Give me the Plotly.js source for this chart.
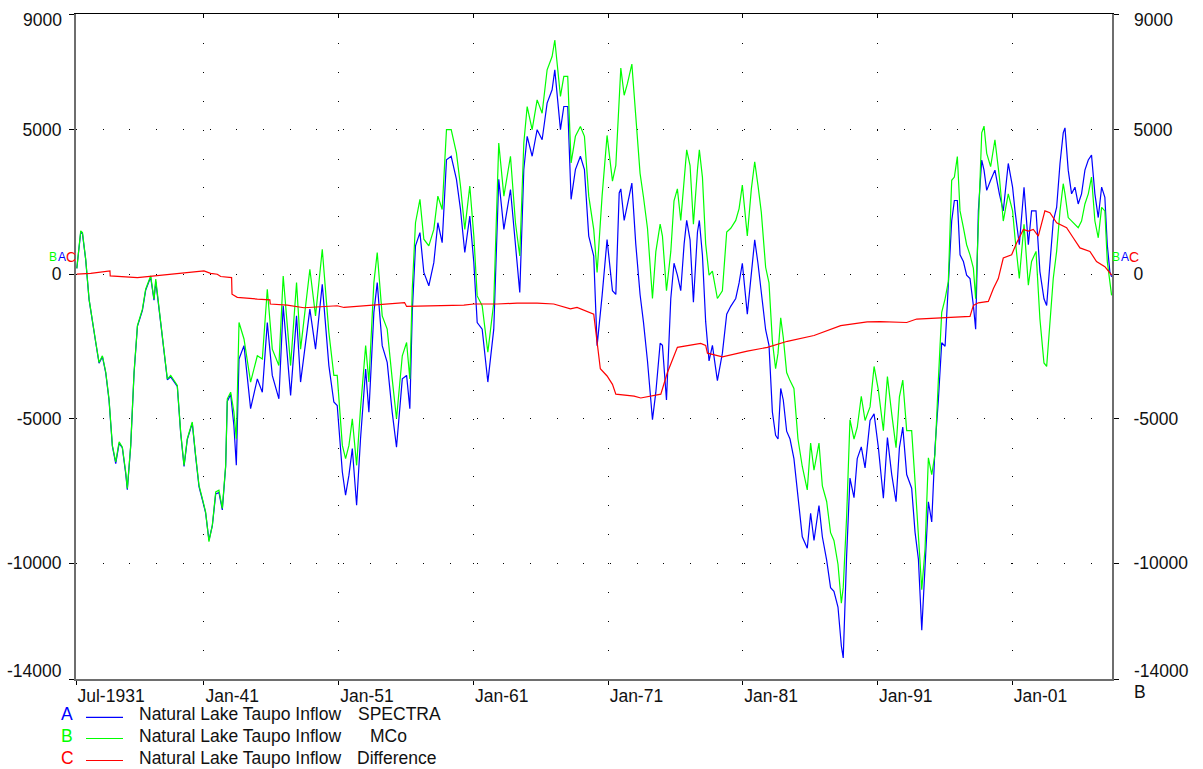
<!DOCTYPE html>
<html>
<head>
<meta charset="utf-8">
<script src="https://cdn.plot.ly/plotly-3.0.1.min.js"></script>
<style>html,body{margin:0;padding:0;background:#fff;}#chart{width:1203px;height:769px;}</style>
</head>
<body>
<div id="chart"></div>
<script>
// ---- data ----
const yearsAB = [1931.56,1931.85,1931.98,1932.22,1932.47,1932.72,1932.97,1933.21,1933.46,1933.71,1933.95,1934.20,1934.45,1934.70,1934.94,1935.19,1935.31,1935.56,1935.81,1936.06,1936.43,1936.67,1937.04,1937.29,1937.42,1937.79,1938.03,1938.28,1938.53,1939.02,1939.27,1939.52,1939.76,1940.13,1940.38,1940.63,1940.88,1941.12,1941.37,1941.62,1941.87,1942.11,1942.36,1942.61,1942.73,1942.98,1943.22,1943.40,1943.60,1943.97,1944.46,1944.96,1945.33,1945.70,1946.07,1946.56,1946.88,1947.43,1947.87,1948.17,1948.86,1949.28,1949.78,1950.27,1950.64,1950.89,1951.27,1951.51,1951.76,1952.01,1952.33,1952.62,1953.00,1953.24,1953.61,1953.86,1954.23,1954.60,1954.97,1955.29,1955.72,1956.04,1956.28,1956.46,1956.70,1957.03,1957.32,1957.69,1958.06,1958.36,1958.68,1959.00,1959.35,1959.74,1960.04,1960.36,1960.73,1961.03,1961.28,1961.65,1962.07,1962.51,1962.88,1963.26,1963.75,1964.12,1964.44,1964.74,1964.99,1965.36,1965.73,1966.10,1966.47,1966.84,1967.04,1967.46,1967.71,1968.00,1968.25,1968.57,1968.94,1969.24,1969.56,1969.93,1970.18,1970.55,1970.92,1971.32,1971.57,1971.82,1971.94,1972.19,1972.43,1972.76,1973.05,1973.37,1973.62,1973.92,1974.29,1974.54,1974.86,1975.03,1975.33,1975.65,1975.89,1976.14,1976.39,1976.64,1976.83,1977.08,1977.33,1977.63,1977.77,1978.00,1978.24,1978.49,1978.74,1979.11,1979.48,1979.80,1980.10,1980.47,1980.72,1980.96,1981.33,1981.63,1981.88,1982.12,1982.37,1982.69,1982.94,1983.19,1983.43,1983.61,1983.81,1984.00,1984.25,1984.50,1984.79,1985.09,1985.41,1985.78,1986.03,1986.28,1986.65,1986.90,1987.22,1987.51,1987.76,1988.06,1988.31,1988.45,1988.70,1988.95,1989.25,1989.49,1989.79,1990.07,1990.44,1990.74,1991.06,1991.43,1991.73,1992.05,1992.37,1992.62,1992.87,1993.16,1993.53,1993.78,1994.03,1994.28,1994.52,1994.77,1995.02,1995.26,1995.51,1995.76,1996.01,1996.25,1996.50,1996.70,1996.92,1997.12,1997.37,1997.61,1997.86,1998.11,1998.28,1998.48,1998.73,1998.90,1999.10,1999.39,1999.71,2000.04,2000.33,2000.70,2001.02,2001.20,2001.52,2001.87,2002.19,2002.43,2002.76,2003.05,2003.35,2003.55,2003.79,2004.04,2004.29,2004.54,2004.78,2004.91,2005.15,2005.40,2005.65,2005.89,2006.14,2006.39,2006.64,2006.88,2007.13,2007.38,2007.63,2007.87,2008.05,2008.24,2008.37];

const spectra = [200,1450,1400,500,-880,-1700,-2380,-3080,-2850,-3420,-4350,-5950,-6550,-5850,-6000,-6900,-7450,-5950,-3420,-1800,-1250,-560,-100,-900,-250,-1700,-2750,-3650,-3550,-3880,-5500,-6650,-5720,-5150,-6300,-7350,-7800,-8250,-9200,-8700,-7600,-7550,-8150,-6650,-4400,-4150,-5230,-6610,-2930,-2470,-4650,-3620,-4080,-1670,-3500,-4310,-1090,-4190,-1440,-3730,-1210,-2590,-350,-3160,-4420,-4540,-6840,-7640,-6950,-6030,-7990,-5690,-3280,-4770,-1320,-290,-2470,-3050,-4770,-5980,-3620,-3500,-4650,-1320,980,1440,60,-400,400,1780,1090,3960,4080,3280,2240,750,2010,400,-1670,-1900,-3730,-1900,3280,1550,2930,860,-630,3620,4770,4080,5000,4650,5920,6380,7070,5000,5800,5800,2590,3620,4080,3620,1320,630,-2470,-750,1200,-570,-700,2810,2950,1860,2400,3150,1050,-700,-1650,-3000,-5030,-4080,-2390,-2460,-4350,-840,380,-30,-570,1050,1860,1190,-970,1460,1860,650,-1650,-3000,-2460,-3680,-2730,-1380,-1110,-840,-300,380,-1380,-30,1190,380,-570,-1920,-2460,-4760,-5570,-5700,-3950,-4350,-5430,-5700,-6380,-7730,-9080,-9480,-8270,-9210,-8000,-9080,-9890,-10840,-10970,-11510,-12860,-13270,-9750,-7050,-7730,-6380,-5970,-6700,-5060,-4830,-6000,-7750,-5650,-6930,-7870,-6000,-5290,-6930,-7400,-8920,-9860,-12310,-10330,-7870,-8570,-6000,-4360,-2370,-2490,-380,1840,2550,2550,670,440,-30,-150,-1080,-1900,2190,3950,3600,2900,3250,3600,2780,2190,3830,3010,2190,1020,3010,1020,2190,2190,90,-850,-1080,320,1840,2310,3830,4890,5060,3600,2780,3010,2430,2780,3600,3950,4120,2780,1960,3010,2660,1020,90,-90];

const mco = [200,1500,1440,520,-860,-1670,-2360,-3050,-2820,-3390,-4310,-5920,-6490,-5800,-5980,-6840,-7410,-5920,-3390,-1780,-1210,-520,-60,-860,-170,-1670,-2700,-3620,-3500,-3850,-5460,-6610,-5690,-5110,-6260,-7300,-7760,-8220,-9250,-8680,-7530,-7470,-8100,-6610,-4310,-4080,-4770,-5690,-1670,-2240,-3730,-2820,-2930,-520,-2590,-3160,-60,-3160,-290,-2590,170,-1440,860,-2010,-3500,-3500,-5920,-6380,-5920,-5000,-6610,-4650,-2470,-3730,-290,750,-1440,-1900,-3620,-5000,-2820,-2360,-3620,-520,1780,2590,1210,980,1550,2700,2240,5000,5000,4190,3050,1550,3050,1320,-750,-1090,-2700,-980,4540,2700,4080,1780,630,4540,5800,5000,6030,5570,7070,7530,8100,6150,6840,6840,3850,4770,5110,4770,2700,1550,60,2700,4800,3220,3760,5920,7130,6190,6590,7270,5510,3490,2680,1590,-840,780,1730,1320,-570,780,2540,2950,1860,3350,4300,3760,1730,3620,4300,3350,1050,-30,110,-840,-570,1460,1590,1860,2270,3080,1320,2950,3890,3080,2140,240,-300,-2320,-3270,-2730,-1510,-2190,-3400,-3680,-3950,-5700,-6650,-7460,-5840,-6780,-5840,-7320,-7860,-8940,-9210,-10030,-11380,-10840,-8400,-5030,-5700,-5300,-4220,-5060,-4590,-3190,-4010,-5410,-3540,-4830,-6000,-4240,-3660,-5410,-5410,-7170,-8920,-10910,-9510,-6350,-6930,-6230,-3660,-1320,-850,-260,3250,3360,4070,2190,1610,1020,670,210,-850,1610,4890,5120,4180,3720,4650,3360,1840,2780,2190,1260,-150,1730,-380,440,790,-1550,-3070,-3190,-1780,-150,790,2190,3130,2780,1960,1840,1730,1610,1840,2430,2780,3360,1840,1260,2310,2190,440,-380,-730];

const yearsDiff = [1931.56,1932.59,1934.02,1934.04,1936.06,1938.53,1941.00,1941.49,1941.99,1942.24,1943.05,1943.08,1943.47,1944.96,1945.89,1945.92,1947.18,1948.42,1949.65,1950.89,1951.39,1953.37,1955.34,1955.89,1956.04,1957.82,1960.29,1961.03,1962.76,1964.24,1965.73,1966.96,1967.46,1968.20,1968.69,1969.68,1969.93,1970.18,1970.42,1970.92,1971.32,1971.57,1972.93,1973.42,1974.91,1975.40,1976.14,1977.87,1978.24,1978.37,1979.48,1981.33,1982.82,1984.30,1986.28,1988.26,1990.23,1991.19,1993.16,1993.90,1995.88,1997.86,1998.11,1998.48,1999.22,1999.59,1999.96,2000.33,2000.95,2001.32,2001.82,2002.19,2002.56,2002.93,2003.42,2003.79,2004.29,2005.03,2005.52,2006.02,2006.76,2007.25,2007.87,2008.37];

const difference = [0,30,115,-60,-115,0,115,30,0,-80,-115,-690,-800,-860,-885,-1030,-1070,-1160,-1115,-1090,-1150,-1070,-980,-980,-1115,-1090,-1070,-1030,-1030,-1000,-1000,-1030,-1090,-1200,-1150,-1320,-1380,-2350,-3270,-3520,-3810,-4150,-4215,-4280,-4150,-3400,-2530,-2390,-2460,-2730,-2860,-2660,-2530,-2320,-2120,-1780,-1650,-1640,-1670,-1550,-1515,-1460,-1080,-990,-940,-500,-150,560,670,1080,1550,1490,1550,1320,2190,2130,1780,1610,1260,910,790,440,260,-30];

const xTickVals = [1931.5,1941,1951,1961,1971,1981,1991,2001];
const xTickText = ['Jul-1931','Jan-41','Jan-51','Jan-61','Jan-71','Jan-81','Jan-91','Jan-01'];
const yTickVals = [9000,5000,0,-5000,-10000,-14000];
const yTickText = ['9000','5000','0','-5000','-10000','-14000'];

const seriesLetters = ['A','B','C'];
const seriesNames = ['Natural Lake Taupo Inflow','Natural Lake Taupo Inflow','Natural Lake Taupo Inflow'];
const seriesSuffix = ['SPECTRA','MCo','Difference'];
const seriesColors = ['#0000ff','#00ff00','#ff0000'];

// ---- layout helpers (pixel -> paper) ----
const PL = 76, PR = 1112, PT = 14, PB = 679;
const px = x => (x - PL) / (PR - PL);
const py = y => (PB - y) / (PB - PT);
const FONT = '"Liberation Sans", Arial, Helvetica, sans-serif';
const TXT = '#111';

const traces = [
  {x: yearsAB, y: spectra, type: 'scatter', mode: 'lines', line: {color: seriesColors[0], width: 1.2}, xaxis: 'x', yaxis: 'y', hoverinfo: 'skip'},
  {x: yearsAB, y: mco, type: 'scatter', mode: 'lines', line: {color: seriesColors[1], width: 1.2}, xaxis: 'x', yaxis: 'y', hoverinfo: 'skip'},
  {x: yearsDiff, y: difference, type: 'scatter', mode: 'lines', line: {color: seriesColors[2], width: 1.2}, xaxis: 'x2', yaxis: 'y2', hoverinfo: 'skip'}
];

const xRange = [1931.5, 2008.4];
const yRange = [-14000, 9000];

// the two end tick labels sit just inside the frame in the reference: drawn as annotations
const edgeIdx = [0, yTickVals.length - 1];
const edgeLabelY = [20, 671];
const axisTickText = yTickText.map((t, i) => edgeIdx.includes(i) ? '' : t);

const annotations = [];
const shapes = [];
edgeIdx.forEach((idx, j) => {
  annotations.push({xref: 'paper', yref: 'paper', x: px(64), y: py(edgeLabelY[j]), xanchor: 'right', yanchor: 'middle', text: yTickText[idx], showarrow: false, font: {family: FONT, size: 17.5, color: TXT}});
  annotations.push({xref: 'paper', yref: 'paper', x: px(1132), y: py(edgeLabelY[j]), xanchor: 'left', yanchor: 'middle', text: yTickText[idx], showarrow: false, font: {family: FONT, size: 17.5, color: TXT}});
});

const rowTextY = [714, 736, 757.5];
const rowLineY = [717.3, 738.5, 760.5];
const suffixX = [356, 368, 355];
for (let i = 0; i < 3; i++) {
  annotations.push({xref: 'paper', yref: 'paper', x: px(67), y: py(rowTextY[i]), xanchor: 'center', yanchor: 'middle', text: seriesLetters[i], showarrow: false, font: {family: FONT, size: 17.5, color: seriesColors[i]}});
  annotations.push({xref: 'paper', yref: 'paper', x: px(137), y: py(rowTextY[i]), xanchor: 'left', yanchor: 'middle', text: seriesNames[i], showarrow: false, font: {family: FONT, size: 17.5, color: TXT}});
  annotations.push({xref: 'paper', yref: 'paper', x: px(suffixX[i]), y: py(rowTextY[i]), xanchor: 'left', yanchor: 'middle', text: seriesSuffix[i], showarrow: false, font: {family: FONT, size: 17.5, color: TXT}});
  shapes.push({type: 'line', xref: 'paper', yref: 'paper', x0: px(86), x1: px(123), y0: py(rowLineY[i]), y1: py(rowLineY[i]), line: {color: seriesColors[i], width: 1.2}});
}
// series start / end letters: a tight cluster (B, A, C) at each end of the curves
const endOrder = [1, 0, 2];
const leftX = [53, 62, 71];
const rightX = [1116, 1125, 1134];
const endY = [257, 257, 257];
const endSize = [12, 12, 14];
endOrder.forEach((k, j) => {
  annotations.push({xref: 'paper', yref: 'paper', x: px(leftX[j]), y: py(endY[j]), xanchor: 'center', yanchor: 'middle', text: seriesLetters[k], showarrow: false, borderpad: 0, font: {family: FONT, size: endSize[j], color: seriesColors[k]}});
  annotations.push({xref: 'paper', yref: 'paper', x: px(rightX[j]), y: py(endY[j]), xanchor: 'center', yanchor: 'middle', text: seriesLetters[k], showarrow: false, borderpad: 0, font: {family: FONT, size: endSize[j], color: seriesColors[k]}});
});
// right-axis footer letter
annotations.push({xref: 'paper', yref: 'paper', x: px(1132), y: py(692), xanchor: 'left', yanchor: 'middle', text: 'B', showarrow: false, font: {family: FONT, size: 17.5, color: TXT}});

const layout = {
  width: 1203, height: 769,
  margin: {l: PL, r: 1203 - PR, t: PT, b: 769 - PB, pad: 0},
  paper_bgcolor: '#ffffff', plot_bgcolor: '#ffffff',
  showlegend: false,
  font: {family: FONT, size: 17.5, color: TXT},
  xaxis: {
    range: xRange, tickmode: 'array', tickvals: xTickVals, ticktext: xTickText,
    ticks: 'outside', ticklen: 4, tickwidth: 1, tickcolor: '#000',
    showline: true, linecolor: '#6e6e6e', linewidth: 2,
    showgrid: true, gridcolor: '#000', gridwidth: 1, griddash: '1px,27.9px',
    zeroline: false, ticklabelposition: 'outside right',
    tickfont: {family: FONT, size: 17.5, color: TXT}, fixedrange: true
  },
  xaxis2: {
    range: xRange, overlaying: 'x', side: 'top', anchor: 'y2', tickmode: 'array', tickvals: xTickVals,
    showticklabels: false, ticks: 'inside', ticklen: 4, tickcolor: '#000',
    showline: true, linecolor: '#000', linewidth: 1, showgrid: false, zeroline: false, fixedrange: true
  },
  yaxis: {
    range: yRange, tickmode: 'array', tickvals: yTickVals, ticktext: axisTickText,
    ticks: 'outside', ticklen: 5, tickwidth: 1, tickcolor: '#000',
    showline: true, linecolor: '#6e6e6e', linewidth: 2,
    showgrid: true, gridcolor: '#000', gridwidth: 1, griddash: '1px,25.7px',
    zeroline: false, ticklabelstandoff: 4,
    tickfont: {family: FONT, size: 17.5, color: TXT}, fixedrange: true
  },
  yaxis2: {
    range: yRange, overlaying: 'y', side: 'right', anchor: 'x2', tickmode: 'array', tickvals: yTickVals, ticktext: axisTickText,
    ticks: 'outside', ticklen: 5, tickwidth: 1, tickcolor: '#000',
    showline: true, linecolor: '#6e6e6e', linewidth: 2,
    showgrid: false, zeroline: false, ticklabelstandoff: 11,
    tickfont: {family: FONT, size: 17.5, color: TXT}, fixedrange: true
  },
  annotations: annotations,
  shapes: shapes
};

Plotly.newPlot('chart', traces, layout, {displayModeBar: false, staticPlot: true});
</script>
</body>
</html>
